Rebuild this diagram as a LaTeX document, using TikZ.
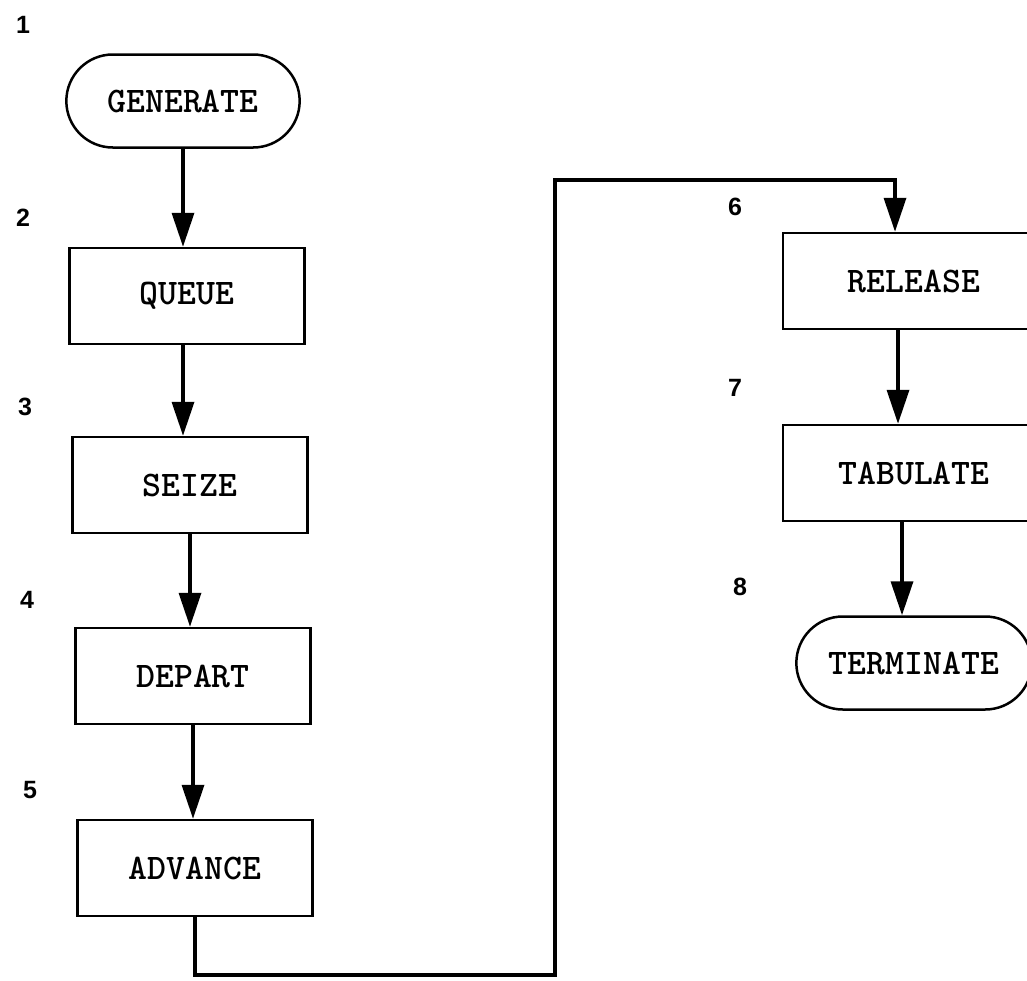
\documentclass[tikz,border=0pt]{standalone}
\usepackage{fontspec}
\setsansfont{Liberation Sans}
\usetikzlibrary{shapes,shapes.misc,arrows.meta,positioning}

\begin{document}
\begin{tikzpicture}[x=1pt,y=-1pt,
			block/.style={draw,rectangle,line width=2.5pt,minimum width=235pt,minimum height=96pt,font=\fontsize{36}{40}\selectfont\ttfamily\bfseries},
			terminal/.style={draw,rounded rectangle,line width=2.5pt,minimum width=240pt,minimum height=93pt,font=\fontsize{36}{40}\selectfont\ttfamily\bfseries},
			flow/.style={line width=3.5pt,-{Triangle[length=34pt,width=22pt]}},
			num/.style={font=\fontsize{25}{28}\selectfont\sffamily\bfseries}
		]
		\useasboundingbox (0,0) rectangle (1027,980);

		% left column
		\node[terminal] (gen) at (183,101) {GENERATE};
		\node[block] (queue) at (187,296) {QUEUE};
		\node[block] (seize) at (190,485) {SEIZE};
		\node[block] (depart) at (193,676) {DEPART};
		\node[block] (advance) at (195,868) {ADVANCE};

		% right column
		\node[block,minimum width=262pt] (release) at (914,281) {RELEASE};
		\node[block,minimum width=262pt] (tabulate) at (914,473) {TABULATE};
		\node[terminal,minimum width=242pt] (term) at (914,663) {TERMINATE};

		% block numbers
		\node[num] (n1) at (23,25) {1};
		\node[num] (n2) at (23,218) {2};
		\node[num] (n3) at (25,407) {3};
		\node[num] (n4) at (27,600) {4};
		\node[num] (n5) at (30,790) {5};
		\node[num] (n6) at (735,207) {6};
		\node[num] (n7) at (735,388) {7};
		\node[num] (n8) at (740,587) {8};

		\draw[flow] (gen.south) -- (gen.south |- queue.north);
		\draw[flow] ([xshift=-4pt]queue.south) -- ([xshift=-4pt]queue.south |- seize.north);
		\draw[flow] (seize.south) -- (seize.south |- depart.north);
		\draw[flow] (depart.south) -- (depart.south |- advance.north);

		\coordinate (loopa) at (555,975);
		\coordinate (loopb) at (555,180);
		\draw[flow] (advance.south) |- (loopa) -- (loopb) -| ([xshift=-19pt]release.north);

		\draw[flow] ([xshift=-16pt]release.south) -- ([xshift=-16pt]release.south |- tabulate.north);
		\draw[flow] ([xshift=-12pt]tabulate.south) -- ([xshift=-12pt]tabulate.south |- term.north);

	\end{tikzpicture}
\end{document}
